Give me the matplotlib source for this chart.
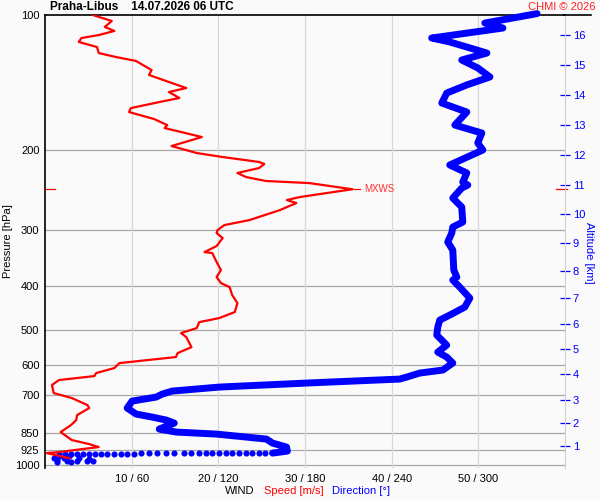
import numpy as np
import matplotlib.pyplot as plt
from matplotlib.lines import Line2D

plt.rcParams['font.family'] = ['Liberation Sans', 'DejaVu Sans']

# wind speed profile [m/s] vs pressure [hPa]
spd_p = [100.0, 103.1, 106.3, 108.5, 110.8, 112.5, 114.8, 117.8, 121.5, 124.0,
         126.5, 128.5, 132.5, 135.9, 140.9, 145.3, 148.3, 152.9, 156.1, 161.0,
         164.3, 170.3, 175.6, 178.3, 186.7, 195.5, 202.6, 206.8, 212.1, 214.3,
         218.8, 224.4, 229.1, 233.8, 236.3, 243.9, 246.2, 253.8, 257.7, 261.7,
         271.3, 285.5, 292.9, 300.5, 305.1, 313.0, 326.1, 336.3, 338.0, 353.9,
         368.7, 382.2, 394.1, 402.3, 419.1, 436.5, 457.1, 471.4, 481.2, 496.2,
         509.0, 519.5, 546.9, 563.9, 575.4, 593.4, 608.7, 624.5, 634.2, 647.3,
         664.1, 691.8, 709.7, 735.6, 747.0, 774.3, 794.3, 814.9, 844.6, 879.9,
         898.1, 912.0, 921.4, 935.7, 940.5, 965.1]
spd_ms = [5.5, 7.7, 6.9, 8.0, 6.2, 4.2, 3.9, 6.0, 6.2, 8.2,
          10.5, 11.1, 12.3, 12.0, 14.3, 16.3, 14.3, 15.5, 13.2, 9.9,
          9.7, 12.6, 14.1, 13.8, 18.1, 14.6, 17.5, 20.5, 24.7, 25.3,
          24.7, 22.2, 23.2, 25.5, 30.5, 35.5, 34.0, 29.4, 27.9, 29.0,
          27.1, 23.6, 20.7, 19.9, 19.8, 20.5, 19.8, 18.4, 19.3, 19.8,
          20.3, 19.8, 20.3, 21.3, 21.6, 22.2, 21.9, 20.1, 17.8, 17.5,
          15.7, 16.3, 16.9, 15.3, 15.1, 8.6, 8.0, 5.9, 5.7, 1.6,
          0.8, 1.0, 3.1, 4.9, 5.1, 3.7, 3.6, 3.0, 1.8, 3.1,
          5.1, 6.2, 4.3, 1.6, 0.2, 2.8]

# wind direction profile [deg] vs pressure [hPa]
dir_p = [99.3, 104.2, 106.9, 112.5, 114.8, 117.8, 121.5, 125.9, 131.1, 137.3,
         143.0, 149.1, 156.9, 164.3, 175.6, 182.9, 192.5, 199.5, 215.4, 224.4,
         235.0, 238.7, 242.4, 255.1, 267.1, 288.4, 295.9, 305.1, 319.5, 332.9,
         368.7, 382.2, 388.1, 402.3, 425.6, 445.6, 464.2, 476.3, 493.7, 514.2,
         541.3, 561.0, 575.4, 593.4, 615.0, 624.5, 637.5, 644.0, 657.3, 670.9,
         684.8, 695.3, 706.1, 720.7, 747.0, 770.3, 782.2, 794.3, 806.6, 823.3,
         831.8, 844.6, 853.3, 875.4, 893.5, 912.0, 930.9, 940.5]
dir_deg = [340.6, 304.5, 317.0, 267.7, 280.2, 292.0, 305.9, 288.5, 299.6, 308.0,
           292.0, 278.1, 274.7, 292.0, 283.7, 302.4, 299.6, 303.1, 280.2, 292.0,
           289.2, 292.7, 288.5, 282.3, 288.5, 289.2, 282.3, 281.6, 278.8, 282.3,
           283.0, 285.1, 282.3, 287.1, 294.1, 290.6, 280.2, 273.3, 271.9, 271.2,
           278.1, 271.9, 278.1, 282.3, 275.4, 259.4, 250.4, 245.5, 181.0, 120.7,
           88.1, 81.2, 77.0, 60.3, 56.9, 63.1, 74.2, 83.9, 89.5, 82.5,
           79.1, 90.9, 118.6, 153.3, 157.5, 167.2, 167.8, 157.5]

# sparse near-surface direction points
sfc_p = [940.5, 940.5, 940.5, 940.5, 940.5, 940.5, 940.5, 940.5, 940.5, 942.0,
         942.0, 942.0, 942.0, 942.0, 942.0, 942.0, 942.0, 942.0, 943.0, 943.0,
         943.0, 943.0, 944.0, 944.0, 944.0, 945.0, 945.0, 945.0, 945.0, 945.0,
         945.0, 955.0, 955.0, 965.1, 965.1, 965.1, 969.8, 974.7, 979.7, 979.7,
         979.7, 979.7, 984.8, 984.8]
sfc_deg = [152.6, 148.4, 143.6, 139.4, 134.6, 129.7, 125.5, 120.7, 115.8, 111.7,
           106.8, 101.3, 96.4, 89.5, 83.9, 77.7, 72.1, 66.6, 61.7, 56.9,
           52.7, 47.9, 43.0, 38.8, 34.7, 30.5, 26.4, 22.2, 18.0, 13.9,
           9.7, 9.7, 16.6, 6.2, 13.2, 23.6, 30.5, 8.3, 15.3, 22.2,
           29.1, 33.3, 8.3, 18.0]

p_levels = [100, 200, 300, 400, 500, 600, 700, 850, 925, 1000]
spd_ticks = [10, 20, 30, 40, 50]
alt_km = list(range(1, 17))
alt_p = [907.4, 806.5, 717.0, 627.8, 553.4, 486.9, 424.9, 370.1, 321.1, 276.8,
         238.3, 204.4, 175.3, 150.4, 129.3, 110.8]

bg = '#fafafa'
fig = plt.figure(figsize=(6, 5), dpi=100, facecolor=bg)
ax = fig.add_axes([0.075, 0.064, 0.8667, 0.906], facecolor=bg)

ax.set_yscale('log')
ax.set_ylim(1015, 100)
ax.set_xlim(0, 60)

for p in p_levels[1:]:
    ax.axhline(p, color='#a8a8a8', lw=0.9, zorder=1)
for s in spd_ticks:
    ax.axvline(s, color='#d8d8d8', lw=0.9, zorder=1)

ax.plot(np.array(dir_deg) / 6.0, dir_p, color='#0000ff', lw=5.0,
        solid_capstyle='round', solid_joinstyle='round', zorder=3, clip_on=False)
ax.plot(np.array(sfc_deg) / 6.0, sfc_p, 'o', color='#0000ff', ms=4.4,
        mec='none', zorder=3)
ax.plot(spd_ms, spd_p, color='#ff0000', lw=1.6, zorder=4)

# max wind marker
imax = int(np.argmax(spd_ms))
p_mx = spd_p[imax]
ax.plot([spd_ms[imax] + 0.1, spd_ms[imax] + 0.9], [p_mx, p_mx], color='#ff0000', lw=0.9, zorder=4)
ax.text(spd_ms[imax] + 1.3, p_mx, 'MXWS', color='#ff3030', fontsize=7,
        va='center', ha='left')
ax.plot([0, 1.1], [p_mx, p_mx], color='#ff0000', lw=0.9, clip_on=False, zorder=5)
ax.plot([59.0, 60.2], [p_mx, p_mx], color='#ff0000', lw=0.9, clip_on=False, zorder=5)

ax.set_yticks(p_levels)
ax.set_yticklabels([str(p) for p in p_levels], fontsize=8)
ax.yaxis.set_minor_locator(plt.NullLocator())
ax.tick_params(axis='y', length=0, pad=4)
ax.set_xticks(spd_ticks)
ax.set_xticklabels([f'{s} / {s * 6}' for s in spd_ticks], fontsize=8)
ax.tick_params(axis='x', length=0, pad=4)
ax.set_ylabel('Pressure [hPa]', fontsize=8, labelpad=2)
ax.yaxis.set_label_coords(-0.062, 0.5)

ax.spines['bottom'].set_visible(False)
ax.spines['right'].set_visible(False)
ax.spines['left'].set_linewidth(1.2)
ax.spines['top'].set_linewidth(1.2)
ax.spines['top'].set_zorder(2)

ax2 = ax.twinx()
ax2.set_yscale('log')
ax2.set_ylim(ax.get_ylim())
ax2.set_yticks(alt_p)
ax2.set_yticklabels([str(a) for a in alt_km], fontsize=8, color='#0000ff')
ax2.yaxis.set_minor_locator(plt.NullLocator())
ax2.tick_params(axis='y', direction='inout', length=7, width=0.9, color='#0000ff', pad=2)
for side in ['left', 'top', 'bottom']:
    ax2.spines[side].set_visible(False)
ax2.spines['right'].set_color('#d0d0d0')
ax2.set_ylabel('Altitude [km]', fontsize=8, color='#0000ff', rotation=270,
               va='center')
ax2.yaxis.set_label_coords(1.046, 0.476)

# top border continues past the altitude scale
fig.add_artist(Line2D([0.94, 0.985], [0.97, 0.97], color='black', lw=1.2))

fig.text(0.083, 0.986, 'Praha-Libus    14.07.2026 06 UTC', fontsize=8.5,
         fontweight='bold', va='center', ha='left')
fig.text(0.993, 0.986, 'CHMI © 2026', fontsize=8, color='#ff2020', va='center', ha='right')

fig.text(0.375, 0.017, 'WIND', fontsize=8, color='black', va='center', ha='left')
fig.text(0.44, 0.017, 'Speed [m/s]', fontsize=8, color='#ff0000', va='center', ha='left')
fig.text(0.553, 0.017, 'Direction [°]', fontsize=8, color='#0000ff', va='center', ha='left')

fig.savefig('out.png', dpi=100, facecolor=bg)
